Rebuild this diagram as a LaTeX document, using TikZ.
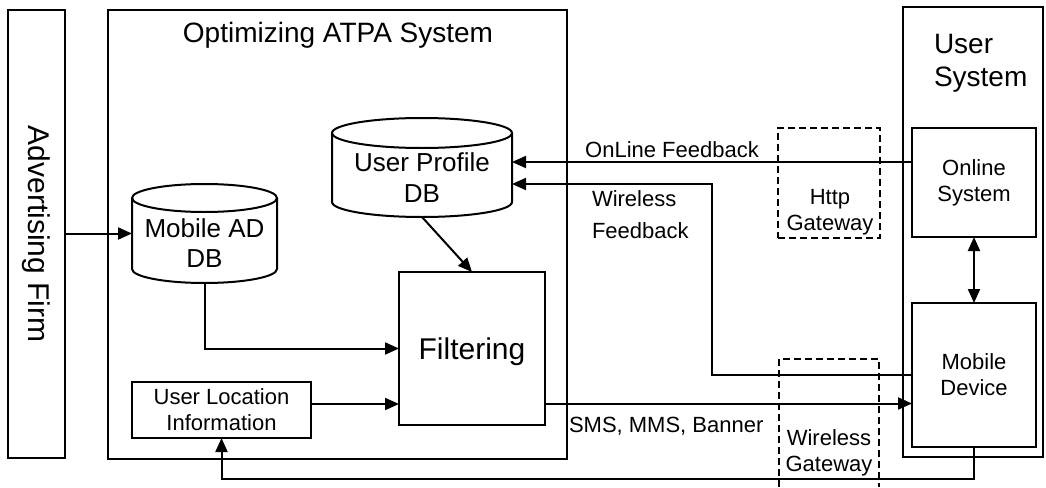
\documentclass[tikz,border=0pt]{standalone}
\usepackage{fontspec}
\setmainfont{Liberation Sans}
\usetikzlibrary{arrows.meta}

\tikzset{
  box/.style={draw, line width=2pt, inner sep=0pt, outer sep=0pt},
  ghost/.style={inner sep=0pt, outer sep=0pt},
  gate/.style={draw, line width=1.5pt, dash pattern=on 7pt off 4pt},
  cyl/.style={line width=2pt},
  arr/.style={line width=2pt, -{Triangle[length=14pt,width=12pt]}},
  arrboth/.style={line width=2pt, {Triangle[length=14pt,width=12pt]}-{Triangle[length=14pt,width=12pt]}},
  small/.style={font=\fontsize{22}{26}\selectfont, align=center},
  dbfont/.style={font=\fontsize{26}{30.5}\selectfont, align=center},
  big/.style={font=\fontsize{28}{33}\selectfont},
  huge/.style={font=\fontsize{30}{36}\selectfont},
  lbl/.style={inner sep=0pt, outer sep=0pt},
}

\begin{document}
\begin{tikzpicture}[x=1pt, y=-1pt]
\useasboundingbox (0,0) rectangle (1046,487);

% outer systems
\node[box, minimum width=57pt, minimum height=448pt, huge] (adv) at (36.5,234)
  {\rotatebox{-90}{Advertising Firm}};
\node[box, minimum width=459pt, minimum height=449pt] (atpa) at (337.5,234.5) {};
\node[lbl, big] (atpat) at (338,35) {Optimizing ATPA System};
\node[box, minimum width=140pt, minimum height=450pt] (usr) at (973,232) {};
\node[lbl, big, align=left, anchor=west] (usrt) at (934,63.5) {User\\System};

% gateways
\node[gate, minimum width=102pt, minimum height=110pt] (hgw) at (829,183) {};
\node[lbl, small] (hgwt) at (830,212.5) {Http\\Gateway};
\draw[gate] (779,487) -- (779,359) -- (879,359) -- (879,487);
\node[lbl, small] (wgw) at (829,453) {Wireless\\Gateway};

% databases
\node[ghost, minimum width=145pt, minimum height=99pt] (mad) at (204.5,233.5) {};
\draw[cyl] ([yshift=-14pt]mad.north west) -- ([yshift=14pt]mad.south west)
  arc[start angle=180, end angle=360, x radius=72.5pt, y radius=14pt]
  -- ([yshift=-14pt]mad.north east);
\draw[cyl] ([yshift=-14pt]mad.north) ellipse [x radius=72.5pt, y radius=14pt];
\node[lbl, dbfont] (madt) at (204.5,243) {Mobile AD\\DB};

\node[ghost, minimum width=180pt, minimum height=99pt] (upd) at (422,167.5) {};
\draw[cyl] ([yshift=-15pt]upd.north west) -- ([yshift=15pt]upd.south west)
  arc[start angle=180, end angle=360, x radius=90pt, y radius=15pt]
  -- ([yshift=-15pt]upd.north east);
\draw[cyl] ([yshift=-15pt]upd.north) ellipse [x radius=90pt, y radius=15pt];
\node[lbl, dbfont] (updt) at (422,177.5) {User Profile\\DB};

% processing blocks
\node[box, minimum width=146pt, minimum height=153pt, huge, text depth=0pt] (filt) at (472,348.5) {Filtering};
\node[box, minimum width=179pt, minimum height=56pt, small] (uli) at (221.5,410) {User Location\\Information};
\node[box, minimum width=124pt, minimum height=109pt, small] (onl) at (974,182.5) {Online\\System};
\node[box, minimum width=124pt, minimum height=144pt, small] (mob) at (974,375) {Mobile\\Device};

% connectors
\draw[arr] (adv.east |- mad.west) -- (mad.west);
\draw[arr] (mad.south) |- (filt.west);
\coordinate (ulo) at ([yshift=6pt]uli.east);
\draw[arr] (ulo) -- (ulo -| filt.west);
\draw[arr] (upd.south) -- (filt.north);

\coordinate (smso) at ([yshift=-55pt]filt.east);
\draw[arr] (smso) -- (smso -| mob.west);
\node[lbl, small, anchor=west] (sms) at (569,426) {SMS, MMS, Banner};

\coordinate (olo) at ([yshift=20.5pt]onl.west);
\draw[arr] (olo) -- (olo -| upd.east);
\node[lbl, small] (olf) at (672,150) {OnLine Feedback};

\coordinate (wfc) at (712,184);
\draw[arr] (mob.west) -| (wfc) -- (wfc -| upd.east);
\node[lbl, font=\fontsize{22}{32}\selectfont, align=left, anchor=west] (wfl) at (592,215) {Wireless\\Feedback};

\coordinate (lfc) at (0,479);
\draw[arr] (mob.south) -- (mob.south |- lfc) -| (uli.south);

\draw[arrboth] (onl.south) -- (mob.north);
\end{tikzpicture}
\end{document}
